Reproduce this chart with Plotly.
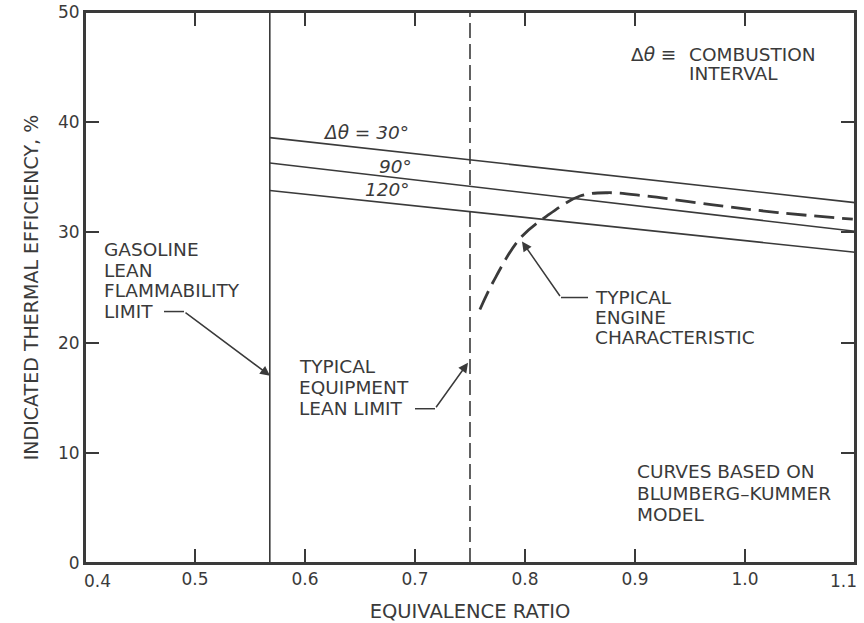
import plotly.graph_objects as go

# ---- data ----
x_tick_vals = [0.4, 0.5, 0.6, 0.7, 0.8, 0.9, 1.0, 1.1]
x_tick_text = ["0.4", "0.5", "0.6", "0.7", "0.8", "0.9", "1.0", "1.1"]
y_tick_vals = [0, 10, 20, 30, 40, 50]

lean_flammability_limit = 0.568
equipment_lean_limit = 0.75

model_x = [0.568, 1.1]
eff_30deg = [38.6, 32.7]
eff_90deg = [36.3, 30.1]
eff_120deg = [33.8, 28.2]

engine_x = [0.759, 0.771, 0.795, 0.82, 0.85, 0.875, 0.91, 0.971, 1.03, 1.098]
engine_y = [23.0, 25.5, 29.4, 31.5, 33.3, 33.6, 33.3, 32.5, 31.8, 31.2]

INK = "#3a3a3a"
FONT = "DejaVu Sans"
TXT = 18.5

fig = go.Figure()

for yy in (eff_30deg, eff_90deg, eff_120deg):
    fig.add_trace(go.Scatter(x=model_x, y=yy, mode="lines",
                             line=dict(color=INK, width=1.6), hoverinfo="skip"))

fig.add_trace(go.Scatter(x=[lean_flammability_limit, lean_flammability_limit], y=[0, 50],
                         mode="lines", line=dict(color=INK, width=1.6), hoverinfo="skip"))
fig.add_trace(go.Scatter(x=[equipment_lean_limit, equipment_lean_limit], y=[0, 50],
                         mode="lines", line=dict(color=INK, width=1.6, dash="15px,6px"),
                         hoverinfo="skip"))
fig.add_trace(go.Scatter(x=engine_x, y=engine_y, mode="lines",
                         line=dict(color=INK, width=2.8, dash="20px,8px", shape="spline"),
                         hoverinfo="skip"))

# helpers converting reference-picture pixel positions of the labels to data coords
def px2x(px):
    return 0.4 + (px - 85) / 1100.0

def px2y(py):
    return (563 - py) / 11.0

def label(text, px, py, xanchor="left", size=TXT, italic=False):
    if italic:
        text = "<i>" + text + "</i>"
    fig.add_annotation(x=px2x(px), y=px2y(py), text=text, showarrow=False,
                       xanchor=xanchor, yanchor="middle", align="left",
                       font=dict(family=FONT, size=size, color=INK))

def block(lines, px, py0, step):
    for i, t in enumerate(lines):
        label(t, px, py0 + i * step)

def arrow(tail_px, tail_py, tip_px, tip_py):
    fig.add_annotation(x=px2x(tip_px), y=px2y(tip_py), ax=px2x(tail_px), ay=px2y(tail_py),
                       axref="x", ayref="y", xref="x", yref="y", text="",
                       showarrow=True, arrowhead=2, arrowsize=1.3, arrowwidth=1.5,
                       arrowcolor=INK, standoff=0)

def seg(x0, y0, x1, y1):
    fig.add_shape(type="line", x0=px2x(x0), y0=px2y(y0), x1=px2x(x1), y1=px2y(y1),
                  xref="x", yref="y", line=dict(color=INK, width=1.5))

# Combustion interval note
label("Δ<i>θ</i> ≡", 629, 55)
block(["COMBUSTION", "INTERVAL"], 687, 55, 19)

# curve labels
label("Δθ = 30°", 366, 133, xanchor="center", italic=True)
label("90°", 395, 167, xanchor="center", italic=True)
label("120°", 387, 190, xanchor="center", italic=True)

# Gasoline lean flammability limit
block(["GASOLINE", "LEAN", "FLAMMABILITY", "LIMIT"], 102, 250, 20.7)
seg(164, 312, 184, 312)
arrow(184, 312, 270, 376)

# Typical equipment lean limit
block(["TYPICAL", "EQUIPMENT", "LEAN LIMIT"], 297, 367, 21)
seg(415, 409, 435, 409)
arrow(435, 409, 468, 363)

# Typical engine characteristic
block(["TYPICAL", "ENGINE", "CHARACTERISTIC"], 593, 298, 20)
seg(588, 298, 561, 298)
arrow(561, 298, 522, 242)

# Model note
block(["CURVES BASED ON", "BLUMBERG–KUMMER", "MODEL"], 635, 472, 21.5)

# end x tick labels tucked inside the frame corners (as in the original)
tick_font = dict(family=FONT, size=17, color=INK)
fig.add_annotation(x=x_tick_vals[0], y=0, text=x_tick_text[0], showarrow=False,
                   xanchor="left", yanchor="top", xshift=-3, yshift=-6, font=tick_font)
fig.add_annotation(x=x_tick_vals[-1], y=0, text=x_tick_text[-1], showarrow=False,
                   xanchor="right", yanchor="top", xshift=4, yshift=-6, font=tick_font)
x_tick_shown = [""] + x_tick_text[1:-1] + [""]

# full frame around the plotting area
fig.add_shape(type="rect", xref="paper", yref="paper", x0=0, x1=1, y0=0, y1=1,
              line=dict(color=INK, width=2), layer="above")

# inward ticks along the top edge of the frame, at the x tick positions
for tv in x_tick_vals[1:-1]:
    fig.add_shape(type="line", xref="x", yref="paper", x0=tv, x1=tv,
                  ysizemode="pixel", yanchor=1, y0=0, y1=-14,
                  line=dict(color=INK, width=1.6), layer="above")

axis_common = dict(showline=True, linecolor=INK, linewidth=2, mirror="ticks",
                   ticks="inside", ticklen=14, tickwidth=1.6, tickcolor=INK,
                   showgrid=False, zeroline=False, automargin=False,
                   ticklabeloverflow="allow", tickfont=tick_font)

fig.update_layout(
    width=864, height=623,
    margin=dict(l=85, r=9, t=12, b=60),
    paper_bgcolor="white", plot_bgcolor="white",
    showlegend=False,
    xaxis=dict(range=[0.4, 1.1], tickvals=x_tick_vals, ticktext=x_tick_shown,
               title=dict(text="EQUIVALENCE RATIO", font=dict(family=FONT, size=19.5, color=INK),
                          standoff=16),
               **axis_common),
    yaxis=dict(range=[0, 50], tickvals=y_tick_vals,
               title=dict(text="INDICATED THERMAL EFFICIENCY, %",
                          font=dict(family=FONT, size=19, color=INK), standoff=14),
               **axis_common),
)

# remove the browser's default 8px body margin so the figure fills the window exactly
fig.write_html("out.html", config={"displayModeBar": False},
               post_script="document.body.style.margin='0px';")
